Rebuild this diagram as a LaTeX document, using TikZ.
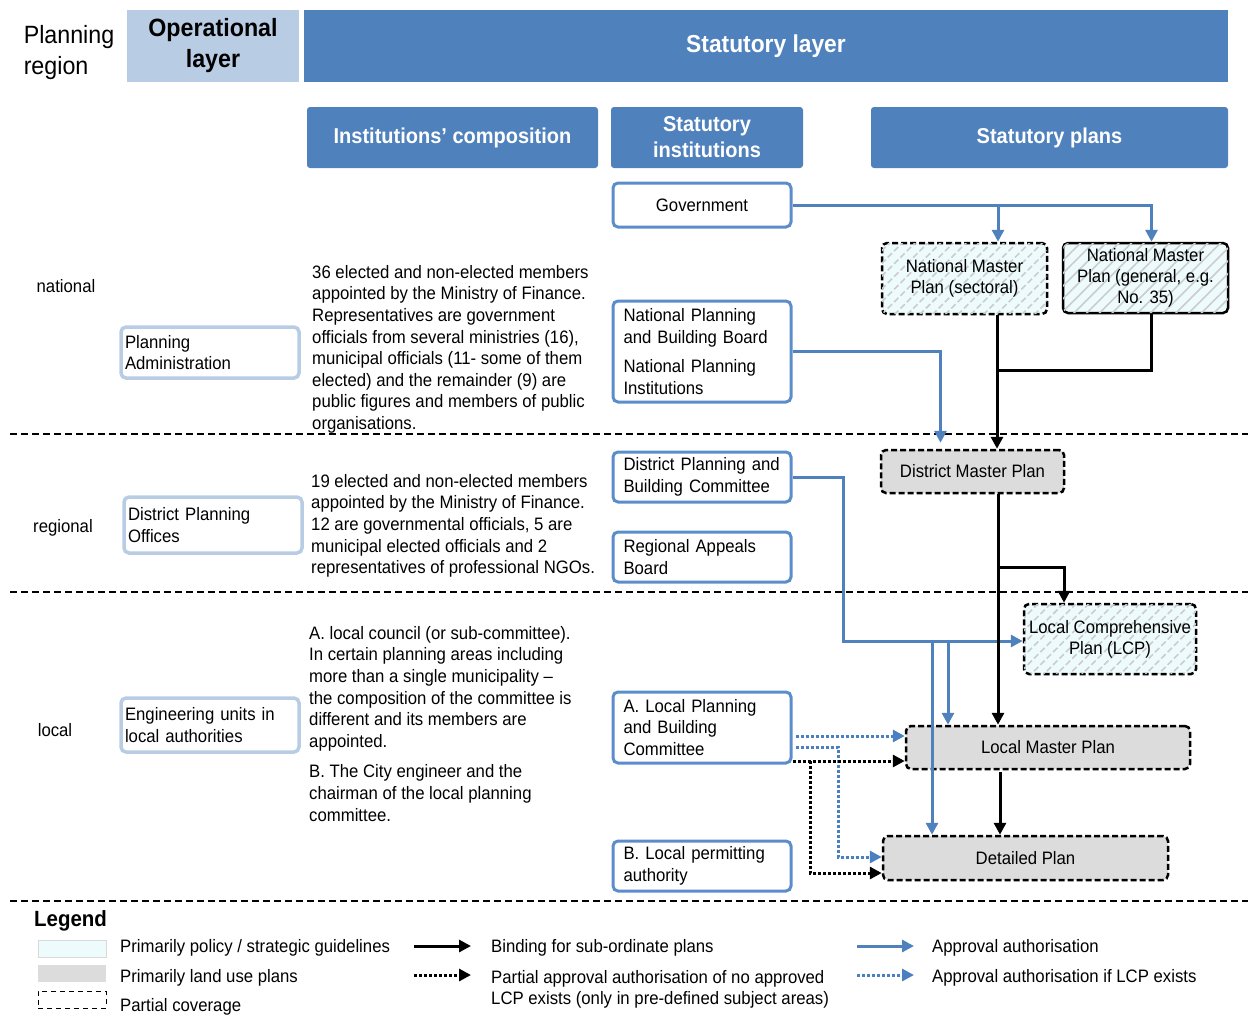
\documentclass[tikz,border=0pt]{standalone}
\usepackage{fontspec}
\setmainfont[FakeStretch=0.93]{Liberation Sans}
\usetikzlibrary{arrows.meta,positioning,calc,patterns.meta}
\definecolor{statblue}{HTML}{4F81BD}
\definecolor{opblue}{HTML}{B8CCE4}
\definecolor{instblue}{HTML}{5B8DCB}
\definecolor{planfill}{HTML}{DCDCDC}
\definecolor{policyfill}{HTML}{EEFBFC}
\definecolor{dotblue}{HTML}{4A7FC1}

\begin{document}
\begin{tikzpicture}[x=1pt,y=-1pt,font=\fontsize{18}{21.6}\selectfont,
  head_node/.style={fill=statblue,text=white,font=\fontsize{24.5}{29}\selectfont\bfseries,align=center,inner sep=0pt},
  sub_node/.style={head_node,rounded corners=3pt,font=\fontsize{21.5}{26}\selectfont\bfseries,minimum height=61},
  inst_node/.style={draw=instblue,line width=3pt,fill=white,rounded corners=5pt,align=left,text width=157,inner xsep=10.5pt,minimum width=178},
  op_node/.style={draw=opblue,line width=3.5pt,fill=white,rounded corners=5pt,align=left,text width=170,inner xsep=4pt,minimum width=178},
  plan_node/.style={draw=black,line width=2.5pt,dash pattern=on 6pt off 3pt,rounded corners=5pt,align=center,fill=planfill},
  hatch_node/.style={plan_node,fill=policyfill,postaction={pattern={Lines[angle=45,distance=9pt,line width=1.6pt]},pattern color=gray!40}},
  txt_node/.style={anchor=north west,align=left,inner sep=0pt},
  tip/.style={-{Triangle[length=12pt,width=12pt]}},
  blue_arrow/.style={tip,draw=statblue,line width=3pt},
  black_arrow/.style={tip,draw=black,line width=3pt},
  blue_dots/.style={tip,draw=dotblue,line width=3pt,dash pattern=on 3pt off 2pt},
  black_dots/.style={tip,draw=black,line width=3pt,dash pattern=on 3pt off 2pt},
  sep_line/.style={line width=1.4pt,dash pattern=on 7pt off 4pt}]
\useasboundingbox (0,0) rectangle (1248,1018);

% headers
\node[align=left,inner sep=0pt,font=\fontsize{25}{31}\selectfont] (region) at (69,53) {Planning\\region};
\node[head_node,fill=opblue,text=black,minimum width=172,minimum height=72,font=\fontsize{25}{31}\selectfont\bfseries] (oplayer) at (213,46) {Operational\\layer};
\node[head_node,minimum width=924,minimum height=72] (statlayer) at (766,46) {Statutory layer};
\node[sub_node,minimum width=291] (comp) at (452.5,137.5) {Institutions' composition};
\node[sub_node,minimum width=192] (inst) at (707,137.5) {Statutory\\institutions};
\node[sub_node,minimum width=357] (plans) at (1049.5,137.5) {Statutory plans};

% levels
\draw[sep_line] (10,434) -- (1248,434);
\draw[sep_line] (10,592) -- (1248,592);
\draw[sep_line] (10,901) -- (1248,901);
\node (national) at (66,286) {national};
\node (regional) at (63,528) {regional};
\node (local) at (55,730) {local};

% operational layer
\node[op_node,minimum height=51] (padmin) at (210,352.5) {Planning\\Administration};
\node[op_node,minimum height=56] (dpo) at (213,525) {District Planning\\Offices};
\node[op_node,minimum height=54] (eng) at (210,725) {Engineering units in\\local authorities};

% composition
\node[txt_node] (natcomp) at (312,265) {36 elected and non-elected members\\appointed by the Ministry of Finance.\\Representatives are government\\officials from several ministries (16),\\municipal officials (11- some of them\\elected) and the remainder (9) are\\public figures and members of public\\organisations.};
\node[txt_node] (regcomp) at (311,474) {19 elected and non-elected members\\appointed by the Ministry of Finance.\\12 are governmental officials, 5 are\\municipal elected officials and 2\\representatives of professional NGOs.};
\node[txt_node] (loccomp) at (309,626) {A. local council (or sub-committee).\\In certain planning areas including\\more than a single municipality --\\the composition of the committee is\\different and its members are\\appointed.\\[9pt]B. The City engineer and the\\chairman of the local planning\\committee.};

% institutions
\node[inst_node,minimum height=44,align=center] (gov) at (702,205) {Government};
\node[inst_node,minimum height=101] (npbb) at (702,351.5) {National Planning\\and Building Board\\[8pt]National Planning\\Institutions};
\node[inst_node,minimum height=50] (dpbc) at (702,477) {District Planning and\\Building Committee};
\node[inst_node,minimum height=50] (rab) at (702,557) {Regional Appeals\\Board};
\node[inst_node,minimum height=71] (lpbc) at (702,727.5) {A. Local Planning\\and Building\\Committee};
\node[inst_node,minimum height=50] (lpa) at (702,866) {B. Local permitting\\authority};

% plans
\node[hatch_node,minimum width=165,minimum height=71] (nmps) at (964.5,278.5) {National Master\\Plan (sectoral)};
\node[hatch_node,solid,minimum width=165,minimum height=70,font=\fontsize{18}{21}\selectfont] (nmpg) at (1145.5,278) {National Master\\Plan (general, e.g.\\No. 35)};
\node[plan_node,minimum width=183,minimum height=43] (dmp) at (972.5,471.5) {District Master Plan};
\node[hatch_node,minimum width=172,minimum height=70,font=\fontsize{18}{21}\selectfont] (lcp) at (1110,639) {Local Comprehensive\\Plan (LCP)};
\node[plan_node,minimum width=284,minimum height=43] (lmp) at (1048,747.5) {Local Master Plan};
\node[plan_node,minimum width=285,minimum height=44] (dp) at (1025.5,858) {Detailed Plan};

\coordinate (j1) at (997,370);
\coordinate (j2) at (998,567);
\coordinate (j3) at (843,641);
\coordinate (j4) at (932,641);
\coordinate (j5) at (948,641);
\coordinate (k1) at (838,857);
\coordinate (k2) at (810,761);
\coordinate (k3) at (810,873);

% approvals
\draw[blue_arrow] (gov.east) -| ([xshift=6]nmpg.north);
\draw[blue_arrow] (gov.east -| 998,0) -- ([xshift=33.5]nmps.north);
\draw[blue_arrow] (npbb.east) -| ([xshift=-32,yshift=6]dmp.north);
\draw[blue_arrow] (dpbc.east) -| (j3) -- (j3 -| lcp.west);
\draw[blue_arrow] (j4) -- (j4 |- dp.north);
\draw[blue_arrow] (j5) -- (j5 |- lmp.north);

% binding
\draw[black_arrow] ([xshift=32.5]nmps.south) -- ([xshift=32.5]nmps.south |- dmp.north);
\draw[line width=3pt] ([xshift=6]nmpg.south) |- (j1);
\draw[black_arrow] ([xshift=25.5]dmp.south) -- ([xshift=25.5]dmp.south |- lmp.north);
\draw[black_arrow] (j2) -| ([xshift=-46]lcp.north);
\draw[black_arrow] ([xshift=-48,yshift=-2]lmp.south) -- ([xshift=-48]lmp.south |- dp.north);

% partial
\draw[blue_dots] ([xshift=3,yshift=-8.5]lpbc.east) -- ([yshift=-8.5]lpbc.east -| lmp.west);
\draw[blue_dots] ([xshift=3,yshift=-19.5]lpbc.east) -| (k1) -- (k1 -| dp.west);
\draw[black_dots] ([yshift=-33.5]lpbc.east) -- ([yshift=-33.5]lpbc.east -| lmp.west);
\draw[black_dots] (k2) -- (k3) -- (k3 -| dp.west);

% legend
\node[anchor=west,inner sep=0pt,font=\fontsize{22}{24}\selectfont\bfseries] (legend) at (34,921) {Legend};
\node[draw=gray!30,line width=1pt,fill=policyfill,minimum width=68,minimum height=17,inner sep=0pt] (leg1) at (72,948.5) {};
\node[fill=planfill,minimum width=68,minimum height=17,inner sep=0pt] (leg2) at (72,973.5) {};
\node[draw,line width=1pt,dash pattern=on 5pt off 4pt,minimum width=68,minimum height=17,inner sep=0pt] (leg3) at (72,999.5) {};
\node[anchor=west,inner sep=0pt] (leg1t) at (120,948) {Primarily policy / strategic guidelines};
\node[anchor=west,inner sep=0pt] (leg2t) at (120,978) {Primarily land use plans};
\node[anchor=west,inner sep=0pt] (leg3t) at (120,1007) {Partial coverage};
\node[anchor=west,inner sep=0pt] (leg4t) at (491,948) {Binding for sub-ordinate plans};
\node[anchor=north west,align=left,inner sep=0pt] (leg5t) at (491,970) {Partial approval authorisation of no approved\\LCP exists (only in pre-defined subject areas)};
\node[anchor=west,inner sep=0pt] (leg6t) at (932,948) {Approval authorisation};
\node[anchor=west,inner sep=0pt] (leg7t) at (932,978) {Approval authorisation if LCP exists};
\coordinate (la1) at (414,946);
\coordinate (la2) at (414,975);
\coordinate (la3) at (857,946);
\coordinate (la4) at (857,975);
\draw[black_arrow] (la1) -- ++(57,0);
\draw[black_dots] (la2) -- ++(57,0);
\draw[blue_arrow] (la3) -- ++(57,0);
\draw[blue_dots] (la4) -- ++(57,0);
\end{tikzpicture}
\end{document}
